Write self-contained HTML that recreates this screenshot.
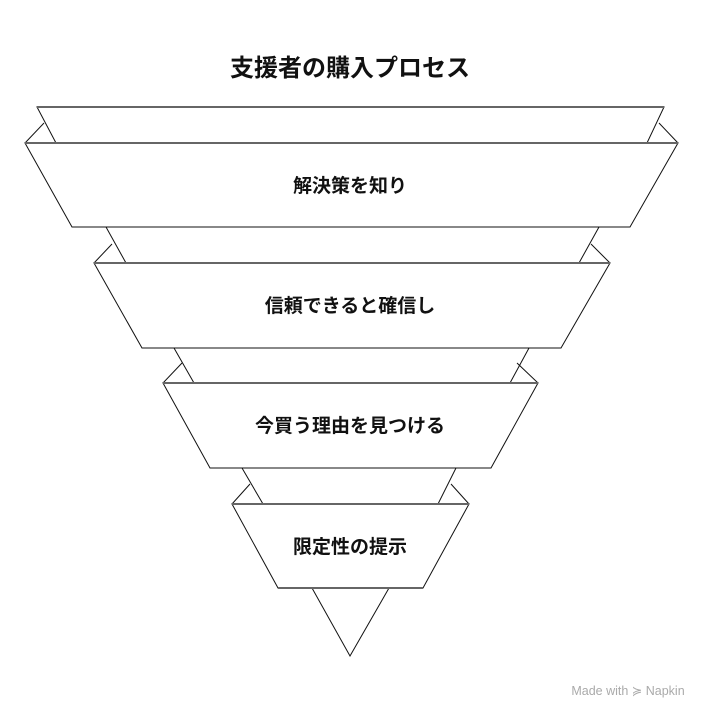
<!DOCTYPE html>
<html><head><meta charset="utf-8"><style>
html,body{margin:0;padding:0;background:#fff;}
body{width:701px;height:720px;overflow:hidden;}
svg{display:block;}
text{font-family:"Liberation Sans","Noto Sans CJK JP",sans-serif;}
</style></head><body>
<svg width="701" height="720" viewBox="0 0 701 720" xmlns="http://www.w3.org/2000/svg">
<g fill="#fff" stroke="#111" stroke-width="1" stroke-linejoin="miter">
  <polygon points="37,107 664,107 647,143 56,143"/>
  <line x1="37" y1="107" x2="664" y2="107" stroke="#666" stroke-width="2"/>
  <polyline points="25,143 44,123" fill="none"/>
  <polyline points="678,143 659,123" fill="none"/>
  <polygon points="25,143 678,143 630,227 72,227"/>
  <line x1="25" y1="143" x2="678" y2="143" stroke="#666" stroke-width="2"/>

  <polygon points="106,227 599,227 579,263 126,263"/>
  <polyline points="94,263 112,244" fill="none"/>
  <polyline points="610,263 591,244" fill="none"/>
  <polygon points="94,263 610,263 561,348 142,348"/>
  <line x1="94" y1="263" x2="610" y2="263" stroke="#666" stroke-width="2"/>

  <polygon points="174,348 529,348 510,383 194,383"/>
  <polyline points="163,383 182,363" fill="none"/>
  <polyline points="538,383 517,363" fill="none"/>
  <polygon points="163,383 538,383 491,468 210,468"/>
  <line x1="163" y1="383" x2="538" y2="383" stroke="#666" stroke-width="2"/>

  <polygon points="242,468 456,468 438,504 263,504"/>
  <polyline points="232,504 250,484" fill="none"/>
  <polyline points="469,504 451,484" fill="none"/>
  <polygon points="232,504 469,504 423,588 278,588"/>
  <line x1="232" y1="504" x2="469" y2="504" stroke="#666" stroke-width="2"/>

  <polygon points="312,588 389,588 350,656"/>
  <line x1="278" y1="588" x2="423" y2="588" stroke="#666" stroke-width="2"/>
</g>
<g text-anchor="middle" font-weight="bold" fill="#111">
  <text x="350" y="76" font-size="24">支援者の購入プロセス</text>
  <text x="350" y="192" font-size="19">解決策を知り</text>
  <text x="350" y="312" font-size="19">信頼できると確信し</text>
  <text x="350" y="432" font-size="19">今買う理由を見つける</text>
  <text x="350" y="553" font-size="19">限定性の提示</text>
</g>
<text x="628" y="695" font-size="12.5" fill="#aaa" text-anchor="middle">Made with ≽ Napkin</text>
</svg>
</body></html>
